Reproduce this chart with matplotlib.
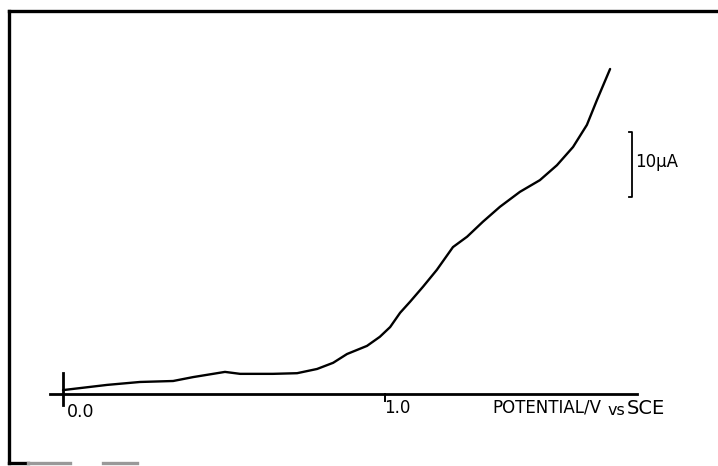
import matplotlib
matplotlib.use("Agg")
import matplotlib.pyplot as plt
from matplotlib.lines import Line2D

# Data: potential (V vs SCE) and current (uA)
potential = [0.0, 0.137, 0.239, 0.342, 0.404, 0.466, 0.503, 0.550, 0.652, 0.727,
             0.789, 0.839, 0.882, 0.944, 0.984, 1.016, 1.047, 1.078, 1.118, 1.161,
             1.211, 1.255, 1.304, 1.357, 1.419, 1.481, 1.534, 1.584, 1.627, 1.658, 1.699]
current = [0.6, 1.4, 1.85, 2.0, 2.6, 3.1, 3.4, 3.1, 3.1, 3.2,
           3.85, 4.8, 6.15, 7.4, 8.8, 10.3, 12.5, 14.2, 16.5, 19.1,
           22.6, 24.2, 26.5, 28.8, 31.1, 32.9, 35.2, 38.0, 41.4, 45.2, 50.0]
tick_values = [0.0, 1.0]
tick_labels = ["0.0", "1.0"]
scale_bar_uA = 10

W, H = 718, 466
fig = plt.figure(figsize=(W / 100, H / 100), dpi=100)
fig.patch.set_facecolor("white")

ax = fig.add_axes([0, 0, 1, 1])
ax.set_axis_off()
# pixel mapping: x_px = 63 + 322*V ; y_px = 394 - 6.5*I
ax.set_xlim(-63 / 322, (W - 63) / 322)
ax.set_ylim(-(H - 394) / 6.5, 394 / 6.5)

font = "DejaVu Sans"

# curve
ax.plot(potential, current, color="black", lw=1.7, solid_capstyle="round",
        solid_joinstyle="round")

# x axis line
ax.plot([-0.04, 1.783], [0, 0], color="black", lw=2.0)
# ticks
ax.plot([tick_values[0]] * 2, [-1.7, 3.2], color="black", lw=2.0)
ax.plot([tick_values[1]] * 2, [0, -1.0], color="black", lw=1.4)
ax.text(0.013, -2.7, tick_labels[0], fontsize=12.5, family=font, va="center", ha="left")
ax.text(0.997, -2.1, tick_labels[1], fontsize=12, family=font, va="center", ha="left")
ax.text(1.335, -2.1, "POTENTIAL/V", fontsize=12, family=font, va="center", ha="left")
ax.text(1.692, -2.5, "vs", fontsize=11.5, family=font, va="center", ha="left")
ax.text(1.752, -2.2, "SCE", fontsize=14, family=font, va="center", ha="left")

# scale bar (bracket)
xb = 1.767
top, bot = 40.3, 40.3 - scale_bar_uA
ax.plot([xb - 0.009, xb, xb, xb - 0.009], [top, top, bot, bot], color="black", lw=1.3)
ax.text(xb + 0.011, (top + bot) / 2 + 0.4, "10μA", fontsize=12, family=font,
        va="center", ha="left")

# frame of the scanned figure (figure coordinates)
def px(x, y):
    return x / W, 1 - y / H

for (x0, y0), (x1, y1), c in [((9, 11), (718, 11), "black"),
                              ((9, 11), (9, 463), "black"),
                              ((9, 463), (28, 463), "black"),
                              ((28, 463), (70, 463), "#999999"),
                              ((103, 463), (137, 463), "#999999")]:
    a, b = px(x0, y0)
    c2, d = px(x1, y1)
    fig.add_artist(Line2D([a, c2], [b, d], color=c, lw=2.4))

fig.savefig("out.png", dpi=100, facecolor="white")
